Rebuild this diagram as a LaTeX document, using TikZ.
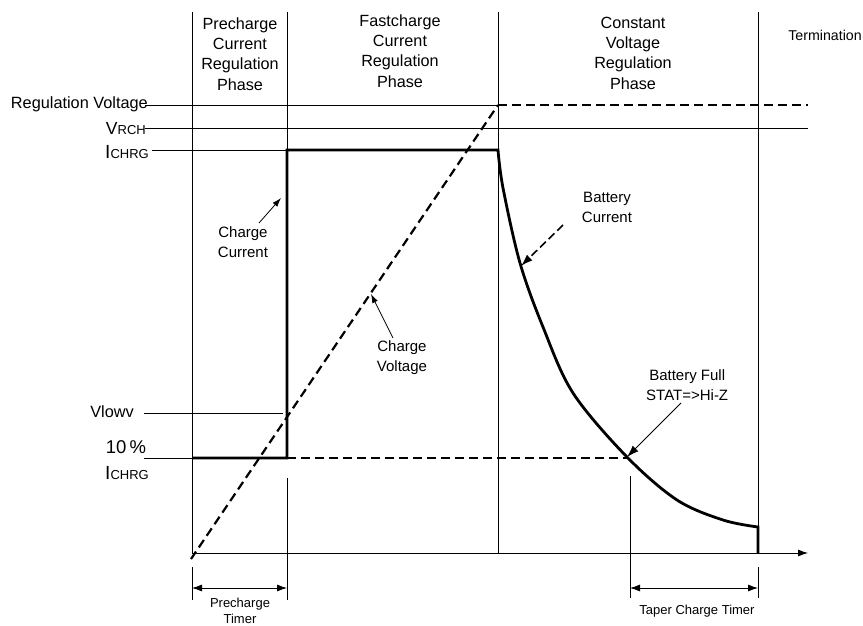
\documentclass[tikz,border=0pt]{standalone}
\usepackage{fontspec}
\setmainfont{Liberation Sans}
\usetikzlibrary{arrows.meta}
\newcommand\lowcaps[1]{{\fontsize{13}{14}\selectfont #1}}
\begin{document}
\begin{tikzpicture}[x=1pt,y=-1pt,
    every node/.style={inner sep=0pt,align=center},
    txt/.style={font=\fontsize{15}{20}\selectfont},
    side/.style={font=\fontsize{16.3}{20}\selectfont},
    phase/.style={font=\fontsize{16.2}{20.3}\selectfont},
    small/.style={font=\fontsize{13}{16}\selectfont},
    fine/.style={line width=0.8pt},
    bold/.style={line width=2.8pt},
    bolddash/.style={line width=2.2pt,dash pattern=on 9pt off 5pt},
    tip/.style={-{Latex[length=9pt,width=6pt]}},
    bigtip/.style={-{Latex[length=12pt,width=8pt]}},
    span/.style={{Latex[length=10pt,width=7pt]}-{Latex[length=10pt,width=7pt]}}]
  \useasboundingbox (0,0) rectangle (863,626);
  \def\currentpath{(192,458) -- (287,458) -- (287,150) -- (498,150)
    -- plot[smooth,tension=0.55] coordinates {(498,150) (503,188) (520,263) (543,327)
       (573,393) (627,457) (677,500) (723,520) (758,527)} -- (758,553)}

  \node[phase] (prePhase) at (240,54) {Precharge\\Current\\Regulation\\Phase};
  \node[phase] (fastPhase) at (400,51) {Fastcharge\\Current\\Regulation\\Phase};
  \node[phase] (cvPhase) at (633,53) {Constant\\Voltage\\Regulation\\Phase};
  \node[font=\fontsize{14.2}{16}\selectfont] (term) at (825,35) {Termination};

  \node[side,anchor=east] (regV) at (148,104) {Regulation Voltage};
  \node[anchor=base east,font=\fontsize{17.5}{18}\selectfont] (vrch) at (146,135) {V\lowcaps{RCH}};
  \node[anchor=base east,font=\fontsize{19}{20}\selectfont] (ichrg) at (149,158) {I\lowcaps{CHRG}};
  \node[side] (vlowv) at (112,412) {Vlowv};
  \node[font=\fontsize{18.5}{20}\selectfont] (tenPct) at (126,447) {10\,\%};
  \node[anchor=base east,font=\fontsize{19}{20}\selectfont] (ichrgLow) at (149,479) {I\lowcaps{CHRG}};

  \coordinate (o) at (192,553);
  \coordinate (xEnd) at (808,553);
  \draw[fine,-{Latex[length=10pt,width=7pt]}] (o) -- (xEnd);

  \draw[fine] (192,12) -- (o);
  \draw[fine] (287,12) -- (287,150);
  \draw[fine] (498,12) -- (498,553);
  \draw[fine] (758,12) -- (758,553);
  \draw[fine] (192,567) -- (192,600);
  \draw[fine] (287,478) -- (287,600);
  \draw[fine] (630,476) -- (630,598);
  \draw[fine] (758,567) -- (758,598);

  \draw[fine] (145,105) -- (498,105);
  \draw[bolddash] (498,105) -- (808,105);
  \draw[fine] (145,128) -- (808,128);
  \draw[fine] (152,150) -- (287,150);
  \draw[fine] (144,413) -- (283,413);
  \draw[fine] (144,458) -- (192,458);
  \draw[bolddash] (287,458) -- (628,458);

  \draw[bolddash] (191,559) -- (498,105);
  \draw[bold] \currentpath;

  \node[txt] (chgCur) at (243,242) {Charge\\Current};
  \node[txt] (batCur) at (607,207) {Battery\\Current};
  \node[txt] (chgVolt) at (402,358) {Charge\\Voltage};
  \node[txt,anchor=west] (batFull) at (646,385) {Battery Full\\STAT=>Hi-Z};

  \coordinate (chgCurTail) at (259,223);
  \coordinate (chgCurHead) at (281,198);
  \coordinate (batCurTail) at (563,225);
  \coordinate (batCurHead) at (521,266);
  \coordinate (chgVoltTail) at (393,338);
  \coordinate (chgVoltHead) at (371,294);
  \coordinate (batFullTail) at (681,403);
  \coordinate (batFullHead) at (627,457);
  \draw[fine,tip] (chgCurTail) -- (chgCurHead);
  \draw[line width=1.6pt,dash pattern=on 8pt off 4pt,bigtip] (batCurTail) -- (batCurHead);
  \draw[fine,tip] (chgVoltTail) -- (chgVoltHead);
  \draw[fine,bigtip] (batFullTail) -- (batFullHead);

  \coordinate (preStart) at (192,588);
  \coordinate (preEnd) at (287,588);
  \coordinate (taperStart) at (630,588);
  \coordinate (taperEnd) at (758,588);
  \draw[fine,span] (preStart) -- (preEnd);
  \draw[fine,span] (taperStart) -- (taperEnd);
  \node[small] (preTimer) at (240,611) {Precharge\\Timer};
  \node[small] (taperTimer) at (697,611) {Taper Charge Timer};
\end{tikzpicture}
\end{document}
